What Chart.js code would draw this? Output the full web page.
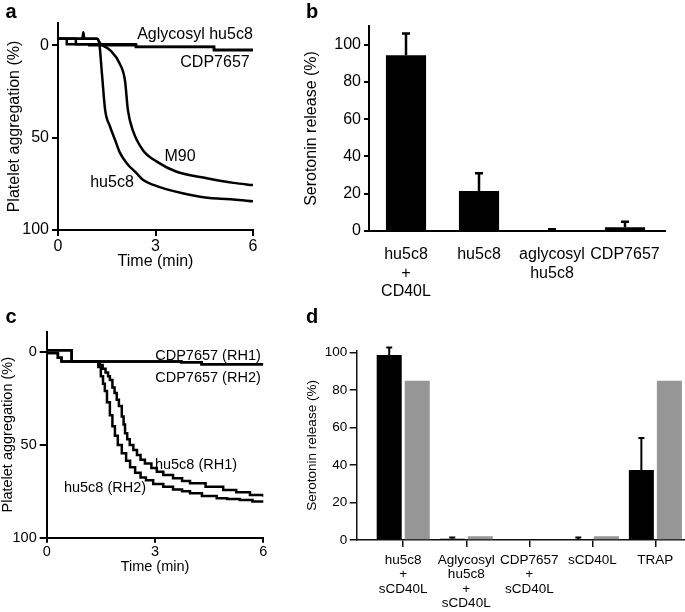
<!DOCTYPE html>
<html>
<head>
<meta charset="utf-8">
<script src="https://cdn.jsdelivr.net/npm/chart.js@4.4.0/dist/chart.umd.min.js"></script>
<style>
  body { margin: 0; background: #fff; }
  #wrap { position: relative; width: 685px; height: 612px; overflow: hidden; font-family: "Liberation Sans", Arial, sans-serif; color: #000; }
  canvas { position: absolute; }
  .lbl { position: absolute; transform: translate(-50%, -50%); line-height: 1; white-space: nowrap; }
  .pan { font-weight: bold; font-size: 20px; }
  .ta { font-size: 16px; }
  .tc { font-size: 14.5px; }
</style>
</head>
<body>
<div id="wrap">
  <canvas id="chart-a" width="340" height="300" style="left:0;top:0"></canvas>
  <canvas id="chart-b" width="385" height="300" style="left:300px;top:0"></canvas>
  <canvas id="chart-c" width="340" height="312" style="left:0;top:300px"></canvas>
  <canvas id="chart-d" width="385" height="312" style="left:300px;top:300px"></canvas>

  <div class="lbl pan" style="left:11px;top:11px">a</div>
  <div class="lbl pan" style="left:312px;top:11px">b</div>
  <div class="lbl pan" style="left:11px;top:316px">c</div>
  <div class="lbl pan" style="left:312px;top:316px">d</div>

  <div class="lbl ta" style="left:195px;top:34px">Aglycosyl hu5c8</div>
  <div class="lbl ta" style="left:215px;top:62px">CDP7657</div>
  <div class="lbl ta" style="left:180px;top:156px">M90</div>
  <div class="lbl ta" style="left:112px;top:182px">hu5c8</div>

  <div class="lbl tc" style="left:208px;top:355px">CDP7657 (RH1)</div>
  <div class="lbl tc" style="left:208px;top:377px">CDP7657 (RH2)</div>
  <div class="lbl tc" style="left:196px;top:464px">hu5c8 (RH1)</div>
  <div class="lbl tc" style="left:105px;top:487px">hu5c8 (RH2)</div>
</div>

<script>
//[Platelet aggregation / serotonin release figure]

//---data: panel a (aggregation %, time in min)
var aTimeTicks = [0, 3, 6];
var aAggTicks = [0, 50, 100];
var aHuT   = [0, 0.75, 0.78, 0.81, 1.2, 1.27, 1.35, 1.45, 1.6, 1.75, 1.9, 2.12, 2.4, 2.62, 3.0, 3.35, 3.8, 4.37, 4.9, 5.4, 6.0];
var aHuV   = [-3.5, -3.5, -7, -3.5, -3.5, -1, 15, 35, 44, 51, 58, 64, 69, 73, 76, 78, 80, 82, 83, 83.5, 84.5];
var aM90T  = [0, 1.2, 1.3, 1.6, 1.9, 2.06, 2.15, 2.3, 2.62, 3.04, 3.65, 4.58, 5.4, 6.0];
var aM90V  = [-3.5, -3.5, -1, 2.7, 10, 19, 35, 46, 57, 63, 68.5, 72, 74.5, 75.7];
var aAglyT = [0, 0.27, 0.27, 2.4, 2.4, 4.8, 4.8, 6];
var aAglyV = [-3.5, -3.5, -0.5, -0.5, 0.8, 0.8, 2.5, 2.5];
var aCdpT  = [0, 0.55, 0.55, 0.96, 0.96, 2.4, 2.4, 4.8, 4.8, 6];
var aCdpV  = [-3.5, -3.5, -0.5, -0.5, 0, 0, 1, 1, 2.7, 2.7];

//---data: panel b (serotonin release %)
var bLabels = [['hu5c8', '+', 'CD40L'], 'hu5c8', ['aglycosyl', 'hu5c8'], 'CDP7657'];
var bValues = [94.3, 21.4, 0, 2];
var bErrors = [11.7, 9.6, 1, 3];
var bTicks  = [0, 20, 40, 60, 80, 100];

//---data: panel c (stepped traces)
var cTimeTicks = [0, 3, 6];
var cAggTicks  = [0, 50, 100];
var cCdp1T = [0, 0.69, 3.73, 4.29, 6];
var cCdp1V = [-1, 5, 5.4, 6.6, 6.6];
var cCdp2T = [0, 0.31, 0.41, 3.73, 4.29, 6];
var cCdp2V = [0.5, 3, 5, 5.4, 6.6, 6.6];
var cHu1T = [0, 0.69, 1.47, 1.55, 1.63, 1.7, 1.75, 1.82, 1.88, 1.94, 2.0, 2.08, 2.13, 2.17, 2.23, 2.3, 2.4, 2.5, 2.6, 2.72, 2.9, 3.05, 3.23, 3.5, 3.75, 3.97, 4.4, 4.89, 5.25, 5.63, 6.0];
var cHu1V = [-1, 5, 7, 9, 11, 13, 15, 19, 22, 25.7, 29, 34.7, 39, 43.7, 47, 50, 52.7, 55.5, 58, 60, 62.5, 64.5, 66.2, 68, 69.5, 70.7, 72.5, 74.3, 75.5, 77, 77.9];
var cHu2T = [0, 0.31, 0.41, 1.43, 1.5, 1.56, 1.61, 1.67, 1.75, 1.82, 1.89, 1.97, 2.08, 2.2, 2.31, 2.45, 2.6, 2.75, 2.95, 3.23, 3.5, 3.75, 3.97, 4.3, 4.71, 5.0, 5.35, 5.7, 6.0];
var cHu2V = [0.5, 3, 5, 8, 13, 17, 21, 27, 34, 40, 45, 50, 54.5, 58.5, 62, 65, 67.5, 69, 71, 72.5, 74, 75, 76, 77.5, 78.8, 79.2, 79.7, 80.5, 81.2];

//---data: panel d (two groups per category)
var dLabels   = [['hu5c8', '+', 'sCD40L'], ['Aglycosyl', 'hu5c8', '+', 'sCD40L'], ['CDP7657', '+', 'sCD40L'], 'sCD40L', 'TRAP'];
var dBlack    = [98.8, 0.7, 0, 0, 37.4];
var dBlackErr = [3.9, 0.7, 0, 1.4, 17];
var dGrey     = [85, 2, 0, 2, 85];
var dTicks    = [0, 20, 40, 60, 80, 100];

Chart.defaults.font.family = '"Liberation Sans", Arial, sans-serif';
Chart.defaults.color = '#000';

function pts(t, v) {
  return t.map(function (x, i) { return { x: x, y: v[i] }; });
}
function idx(v) {
  return v.map(function (y, i) { return { x: i, y: y }; });
}
function trace(t, v, extra) {
  var ds = { data: pts(t, v), borderColor: '#000', borderWidth: 2.5, pointRadius: 0, fill: false, tension: 0 };
  for (var k in extra) ds[k] = extra[k];
  return ds;
}
function fixedTicks(list) {
  return function (s) { s.ticks = list.map(function (v) { return { value: v }; }); };
}

// error bars drawn on top of the bars, through the y scale
var errorBars = {
  id: 'errorBars',
  afterDatasetsDraw: function (chart) {
    var ctx = chart.ctx, ys = chart.scales.y;
    chart.data.datasets.forEach(function (ds, i) {
      if (!ds.errors) return;
      chart.getDatasetMeta(i).data.forEach(function (bar, j) {
        var e = ds.errors[j];
        if (!e) return;
        var v = ds.data[j].y;
        var y0 = ys.getPixelForValue(v), y1 = ys.getPixelForValue(v + e);
        ctx.save();
        ctx.strokeStyle = '#000';
        ctx.lineWidth = ds.errWidth;
        ctx.beginPath();
        ctx.moveTo(bar.x, y0); ctx.lineTo(bar.x, y1);
        ctx.moveTo(bar.x - ds.capHalf, y1); ctx.lineTo(bar.x + ds.capHalf, y1);
        ctx.stroke();
        ctx.restore();
      });
    });
  }
};

var base = { responsive: false, animation: false, events: [],
  plugins: { legend: { display: false }, tooltip: { enabled: false } } };

function opts(extra) {
  var o = JSON.parse(JSON.stringify(base));
  for (var k in extra) o[k] = extra[k];
  return o;
}

//---a
new Chart(document.getElementById('chart-a').getContext('2d'), {
  type: 'line',
  data: { datasets: [
    trace(aAglyT, aAglyV), trace(aCdpT, aCdpV),
    trace(aM90T, aM90V, { cubicInterpolationMode: 'monotone' }),
    trace(aHuT, aHuV, { cubicInterpolationMode: 'monotone' })
  ] },
  options: opts({
    layout: { padding: { top: 23, right: 87, left: 0, bottom: 0 } },
    scales: {
      x: { type: 'linear', min: 0, max: 6,
        afterBuildTicks: fixedTicks(aTimeTicks),
        afterFit: function (s) { s.height = 70; },
        grid: { drawOnChartArea: false, tickLength: 6, color: '#000', lineWidth: 2 },
        border: { color: '#000', width: 2 },
        ticks: { font: { size: 16, lineHeight: 1.2 }, padding: 1, maxRotation: 0 },
        title: { display: true, text: 'Time (min)', font: { size: 16, lineHeight: 1.2 }, padding: { top: 0, bottom: 28.7 } } },
      y: { type: 'linear', min: -12, max: 100, reverse: true,
        afterBuildTicks: fixedTicks(aAggTicks),
        afterFit: function (s) { s.width = 58; },
        grid: { drawOnChartArea: false, tickLength: 6, color: '#000', lineWidth: 2 },
        border: { color: '#000', width: 2 },
        ticks: { font: { size: 16 }, padding: 3 },
        title: { display: true, text: 'Platelet aggregation (%)', font: { size: 16, lineHeight: 1.2 }, padding: { top: 5.4, bottom: 0 } } }
    }
  })
});

//---b
new Chart(document.getElementById('chart-b').getContext('2d'), {
  type: 'bar',
  data: { datasets: [{ data: idx(bValues), errors: bErrors, errWidth: 2.5, capHalf: 4,
    backgroundColor: '#000', borderWidth: 0, barPercentage: 0.55, categoryPercentage: 1 }] },
  plugins: [errorBars],
  options: opts({
    layout: { padding: { top: 26, right: 20, left: 0, bottom: 0 } },
    scales: {
      x: { type: 'linear', min: -0.507, max: 3.548, offset: false,
        afterBuildTicks: fixedTicks(bLabels.map(function (l, i) { return i; })),
        afterFit: function (s) { s.height = 69; },
        grid: { display: false, offset: false },
        border: { color: '#000', width: 2 },
        ticks: { font: { size: 16, lineHeight: 1.15 }, padding: 6.5, maxRotation: 0, autoSkip: false,
          callback: function (v) { return bLabels[v]; } } },
      y: { type: 'linear', min: 0, max: 110,
        afterBuildTicks: fixedTicks(bTicks),
        afterFit: function (s) { s.width = 69; },
        grid: { drawOnChartArea: false, tickLength: 5, color: '#000', lineWidth: 2 },
        border: { color: '#000', width: 2 },
        ticks: { font: { size: 16 }, padding: 3 },
        title: { display: true, text: 'Serotonin release (%)', font: { size: 16, lineHeight: 1.2 }, padding: { top: 2.4, bottom: 0 } } }
    }
  })
});

//---c
new Chart(document.getElementById('chart-c').getContext('2d'), {
  type: 'line',
  data: { datasets: [
    trace(cCdp1T, cCdp1V, { stepped: true }), trace(cCdp2T, cCdp2V, { stepped: true }),
    trace(cHu1T, cHu1V, { stepped: true }), trace(cHu2T, cHu2V, { stepped: true })
  ] },
  options: opts({
    layout: { padding: { top: 31.7, right: 76.7, left: 0, bottom: 0 } },
    scales: {
      x: { type: 'linear', min: 0, max: 6,
        afterBuildTicks: fixedTicks(cTimeTicks),
        afterFit: function (s) { s.height = 74.3; },
        grid: { drawOnChartArea: false, tickLength: 5, color: '#000', lineWidth: 2 },
        border: { color: '#000', width: 2 },
        ticks: { font: { size: 14.5, lineHeight: 1.2 }, padding: 0.3, maxRotation: 0 },
        title: { display: true, text: 'Time (min)', font: { size: 14.5, lineHeight: 1.2 }, padding: { top: 0, bottom: 36.6 } } },
      y: { type: 'linear', min: -11, max: 100, reverse: true,
        afterBuildTicks: fixedTicks(cAggTicks),
        afterFit: function (s) { s.width = 46.7; },
        grid: { drawOnChartArea: false, tickLength: 7, color: '#000', lineWidth: 2 },
        border: { color: '#000', width: 2 },
        ticks: { font: { size: 14.5 }, padding: 3 },
        title: { display: true, text: 'Platelet aggregation (%)', font: { size: 14.5, lineHeight: 1 }, padding: { top: 1, bottom: 0 } } }
    }
  })
});

//---d
new Chart(document.getElementById('chart-d').getContext('2d'), {
  type: 'bar',
  data: { datasets: [
    { data: idx(dBlack), errors: dBlackErr, errWidth: 2, capHalf: 3,
      backgroundColor: '#000', borderWidth: 0, barPercentage: 0.893, categoryPercentage: 0.889 },
    { data: idx(dGrey), backgroundColor: '#969696', borderWidth: 0, barPercentage: 0.893, categoryPercentage: 0.889 }
  ] },
  plugins: [errorBars],
  options: opts({
    layout: { padding: { top: 50.8, right: 0, left: 0, bottom: 0 } },
    scales: {
      x: { type: 'linear', min: -0.738, max: 4.47, offset: false,
        afterBuildTicks: fixedTicks(dLabels.map(function (l, i) { return i; })),
        afterFit: function (s) { s.height = 72; },
        grid: { drawOnChartArea: false, offset: false, tickLength: 7, color: '#111', lineWidth: 1.5 },
        border: { color: '#111', width: 1.5 },
        ticks: { font: { size: 13.5, lineHeight: 1.07 }, padding: 5.8, maxRotation: 0, autoSkip: false,
          callback: function (v) { return dLabels[v]; } } },
      y: { type: 'linear', min: 0, max: 101,
        afterBuildTicks: fixedTicks(dTicks),
        afterFit: function (s) { s.width = 56.7; },
        grid: { drawOnChartArea: false, tickLength: 7, color: '#111', lineWidth: 1.5 },
        border: { color: '#111', width: 1.5 },
        ticks: { font: { size: 13.5 }, padding: 2.5 },
        title: { display: true, text: 'Serotonin release (%)', font: { size: 13.5, lineHeight: 1.2 }, padding: { top: 3.9, bottom: 0 } } }
    }
  })
});
</script>
</body>
</html>
